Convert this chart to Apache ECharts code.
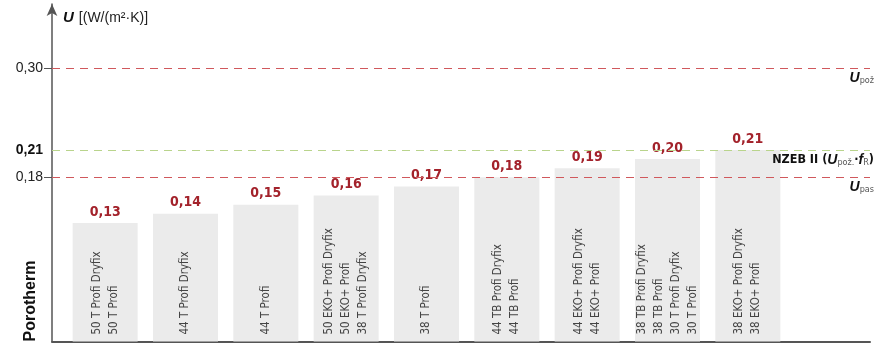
<!DOCTYPE html>
<html><head><meta charset="utf-8">
<script src="https://cdn.jsdelivr.net/npm/echarts@6/dist/echarts.min.js"></script>
<style>html,body{margin:0;padding:0;background:#fff}#c{width:880px;height:343px}</style>
</head><body><div id="c"></div>
<script>
const categories = [
  '50 T Profi Dryfix\n50 T Profi',
  '44 T Profi Dryfix',
  '44 T Profi',
  '50 EKO+ Profi Dryfix\n50 EKO+ Profi\n38 T Profi Dryfix',
  '38 T Profi',
  '44 TB Profi Dryfix\n44 TB Profi',
  '44 EKO+ Profi Dryfix\n44 EKO+ Profi',
  '38 TB Profi Dryfix\n38 TB Profi\n30 T Profi Dryfix\n30 T Profi',
  '38 EKO+ Profi Dryfix\n38 EKO+ Profi'
];
const uValues = [0.13, 0.14, 0.15, 0.16, 0.17, 0.18, 0.19, 0.20, 0.21];
const yTickLabels = [0.18, 0.21, 0.30];
const yTickMarks = [0.18, 0.30];
const refLines = [
  {name: 'Upož', value: 0.30},
  {name: 'NZEB', value: 0.21},
  {name: 'Upas', value: 0.18}
];
const yMax = 0.37;

const fmt = v => v.toFixed(2).replace('.', ',');
const narrow = "'DejaVu Sans Condensed','Liberation Sans Narrow',sans-serif";
const red = '#d0585c';
const green = '#b9d48c';

const chart = echarts.init(document.getElementById('c'), null, {renderer: 'canvas'});
const refStyle = {
  'Upož': {color: red, label: '{u|U}{s|pož}'},
  'NZEB': {color: green, label: '{b|NZEB II (}{u|U}{s|pož.}{b|·}{u|f}{s|R}{b|)}'},
  'Upas': {color: red, label: '{u|U}{s|pas}'}
};
const richLbl = {
  u: {fontFamily: "'Liberation Sans',sans-serif", fontWeight: 'bold', fontStyle: 'italic', fontSize: 14, color: '#111'},
  s: {fontFamily: narrow, fontSize: 9, color: '#555', padding: [5, 0, 0, 0]},
  b: {fontFamily: narrow, fontWeight: 'bold', fontSize: 12.5, color: '#111'}
};

const refSeries = refLines.map(r => ({
  type: 'line', name: r.name, xAxisIndex: 1, yAxisIndex: 1, data: [], z: 5,
  color: refStyle[r.name].color,
  markLine: {
    silent: true, symbol: ['none', 'none'], z: 5,
    lineStyle: {color: refStyle[r.name].color, type: [8, 6], width: 1, opacity: 1},
    label: {show: true, position: 'insideEndBottom', distance: [-4, 3], formatter: refStyle[r.name].label, rich: richLbl},
    data: [{yAxis: r.value}]
  }
}));

chart.setOption({
  animation: false,
  grid: [
    {left: 65, right: 92, top: 4, bottom: 1.5},
    {left: 52, right: 10, top: 4, bottom: 1.5}
  ],
  xAxis: [
    {gridIndex: 0, type: 'category', data: categories, show: false},
    {gridIndex: 1, type: 'value', min: 0, max: 1, axisLine: {show: true, lineStyle: {color: '#555', width: 2}},
     axisTick: {show: false}, axisLabel: {show: false}, splitLine: {show: false}}
  ],
  yAxis: [
    {gridIndex: 0, type: 'value', min: 0, max: yMax, show: false, splitLine: {show: false}},
    {gridIndex: 1, type: 'value', min: 0, max: yMax,
     axisLine: {show: true, symbol: ['none', 'arrow'], symbolSize: [8, 12], lineStyle: {color: '#555', width: 1.5}},
     axisTick: {show: true, length: 8, customValues: yTickMarks, lineStyle: {color: '#555', width: 1}},
     axisLabel: {show: true, margin: 9, customValues: yTickLabels,
       formatter: v => Math.abs(v - 0.21) < 1e-6 ? '{bb|' + fmt(v) + '}' : fmt(v),
       color: '#222', fontSize: 14, fontFamily: "'Liberation Sans',Arial,sans-serif",
       rich: {bb: {fontWeight: 'bold', fontSize: 14, color: '#111', fontFamily: "'Liberation Sans',Arial,sans-serif"}}},
     splitLine: {show: false}}
  ],
  title: {
    text: '{u|U} {t|[(W/(m²·K)]}',
    left: 58, top: 4,
    textStyle: {fontWeight: 'normal', rich: {
      u: {fontFamily: "'Liberation Sans',sans-serif", fontWeight: 'bold', fontStyle: 'italic', fontSize: 15, color: '#111'},
      t: {fontFamily: "'Liberation Sans',sans-serif", fontWeight: 'normal', fontSize: 14, color: '#222'}
    }}
  },
  graphic: [{
    type: 'text', x: 31, y: 301, rotation: Math.PI / 2,
    style: {text: 'Porotherm', font: "bold 16px 'Liberation Sans',sans-serif", fill: '#111', align: 'center', verticalAlign: 'middle'}
  }],
  series: [
    {
      type: 'bar', xAxisIndex: 0, yAxisIndex: 0, data: uValues, barWidth: 65, z: 2,
      itemStyle: {color: '#ebebeb'},
      label: {show: true, position: 'top', distance: 4, formatter: p => fmt(p.value),
        color: '#a3222b', fontWeight: 'bold', fontSize: 14, fontFamily: narrow}
    },
    {
      type: 'bar', xAxisIndex: 0, yAxisIndex: 0, data: uValues, barWidth: 65, barGap: '-100%', z: 3,
      itemStyle: {color: 'rgba(0,0,0,0)'},
      label: {show: true, position: 'insideBottom', distance: 7, rotate: 90, align: 'left', verticalAlign: 'middle',
        formatter: p => p.name, color: '#444', fontSize: 11.5, lineHeight: 17, fontFamily: narrow}
    }
  ].concat(refSeries)
});
</script></body></html>
